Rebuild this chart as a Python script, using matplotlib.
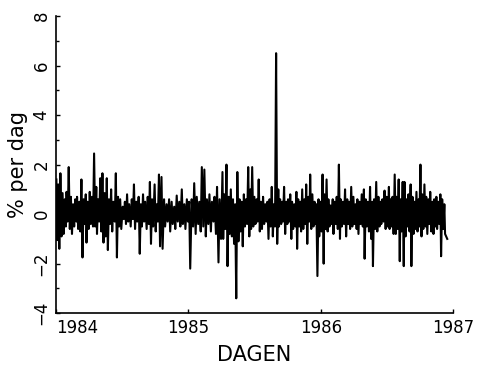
import numpy as np
import pandas as pd
import matplotlib
matplotlib.use("Agg")
import matplotlib.pyplot as plt

# dagelijkse rendementen (% per dag), van links naar rechts
rendement_1 = [1.4, -1.05, 1.2, -1.4, 1.65, -0.9, 0.85, -0.8, 0.6, -0.5, 0.9, -0.3,
               1.9, -0.6, 0.7, -0.8, 0.4, -0.5, 0.6, -0.3, 0.7, -0.6, 0.5, -0.7,
               1.4, -1.75, 0.6, -0.4, 0.8, -1.15, 0.5, -0.6, 0.9, -0.4, 0.7, -0.5,
               2.45, -0.5, 1.1, -0.8, 0.6, -0.3, 1.45, -0.7, 1.65, -1.15, 0.85, -0.9]
rendement_2 = [1.45, -1.45, 0.6, -0.4, 1.0, -0.7, 0.5, -0.3, 1.65, -1.75, 0.7, -0.5,
               0.6, -0.6, 0.3, -0.2, 0.5, -0.4, 0.8, -0.3, 0.4, -0.5, 0.6, -0.2,
               1.2, -0.6, 0.5, -0.3, 0.7, -1.6, 0.4, -0.5, 0.8, -0.3, 0.5, -0.6,
               0.7, -0.4, 1.3, -1.2, 0.6, -0.5, 1.2, -0.7, 0.4, -0.3, 1.6, -1.3]
rendement_3 = [1.5, -1.4, 0.6, -0.5, 0.4, -0.3, 0.6, -0.7, 0.5, -0.4, 0.3, -0.6,
               0.75, -0.3, 0.5, -0.5, 1.0, -0.4, 0.4, -0.6, 0.6, -0.3, 0.5, -2.2,
               0.6, -0.5, 1.25, -0.8, 0.7, -0.4, 0.5, -0.7, 1.9, -0.5, 1.8, -0.9,
               0.6, -0.4, 0.8, -0.7, 0.5, -0.3, 0.7, -0.8, 1.1, -1.95, 0.6, -1.0]
rendement_4 = [1.7, -1.0, 0.8, -0.6, 2.0, -2.1, 0.7, -0.8, 1.0, -0.9, 0.6, -1.2,
               0.4, -3.4, 1.7, -1.1, 0.6, -0.7, 0.5, -1.3, 0.8, -0.5, 0.6, -0.4,
               1.9, -0.9, 1.0, -0.6, 1.9, -0.5, 0.7, -0.4, 0.6, -0.3, 1.4, -0.7,
               0.5, -0.6, 0.7, -0.4, 0.4, -0.3, 0.5, -1.0, 0.6, -0.5, 1.1, -0.9,
               0.4, -0.5, 6.5, -1.2]
rendement_5 = [1.0, -0.5, 0.6, -0.4, 0.5, -0.3, 1.1, -0.8, 0.5, -0.4, 0.6, -0.3,
               0.8, -1.0, 0.5, -0.6, 0.4, -0.5, 0.9, -1.4, 0.6, -0.5, 0.5, -0.7,
               1.0, -0.6, 0.6, -0.4, 1.2, -1.2, 0.7, -0.3, 1.6, -0.6, 0.8, -0.5,
               0.5, -0.4, 0.4, -2.5, 0.6, -0.9, 0.5, -0.7, 1.6, -2.0, 0.8, -0.6,
               1.4, -0.7, 0.6, -0.5, 0.35, -0.4]
rendement_6 = [0.6, -0.8, 0.5, -0.4, 0.7, -0.6, 2.0, -1.0, 0.6, -0.5, 0.5, -0.4,
               1.0, -0.9, 0.6, -0.4, 0.5, -0.6, 1.1, -0.5, 0.7, -0.4, 0.4, -0.6,
               0.6, -0.8, 0.5, -0.4, 0.8, -0.5, 1.0, -1.8, 0.6, -0.5, 0.5, -0.7,
               1.1, -1.0, 0.5, -2.1, 0.6, -0.6, 1.3, -0.7, 0.7, -0.5, 0.5, -0.4,
               0.6, -0.3, 0.95, -0.6, 0.7, -0.5]
rendement_7 = [1.1, -0.6, 0.6, -0.5, 0.7, -0.8, 1.6, -0.8, 0.7, -0.6, 1.4, -1.9,
               0.6, -0.7, 1.3, -2.1, 1.3, -0.9, 0.6, -0.5, 0.8, -0.7, 1.2, -2.1,
               0.7, -0.8, 0.5, -0.6, 0.9, -0.7, 0.6, -0.5, 2.0, -0.9, 0.8, -0.6,
               1.2, -0.5, 0.7, -0.8, 0.6, -0.4, 0.9, -0.7, 0.5, -0.8, 0.6, -0.5,
               0.7, -0.6, 0.5, -0.4, 0.8, -1.7, 0.6, -0.6, 0.4, -0.8, -0.9, -1.0]

stukken = [rendement_1, rendement_2, rendement_3, rendement_4,
           rendement_5, rendement_6, rendement_7]
# begindatum van elk stuk, plus de laatste dag
grensdata = ["1984-01-02", "1984-05-20", "1984-10-18", "1985-04-05",
             "1985-09-06", "1986-02-03", "1986-07-08", "1986-12-19"]
jaren = [1984, 1985, 1986, 1987]

# datums per stuk, daarna omzetten naar decimale jaren
dagen = []
for i, stuk in enumerate(stukken):
    d = pd.date_range(grensdata[i], grensdata[i + 1], periods=len(stuk) + 1)[:-1]
    dagen.extend(d)
dagen = pd.DatetimeIndex(dagen)
x = dagen.year + (dagen.dayofyear - 1) / 365.25
rendement = sum(stukken, [])

fig = plt.figure(figsize=(4.79, 3.65), dpi=100)
ax = fig.add_axes([0.117, 0.142, 0.829, 0.814])

ax.plot(x, rendement, color="black", linewidth=1.5)

ax.set_xlim(1984, 1987)
ax.set_ylim(-4, 8)
ax.set_xticks(jaren)
ax.set_xticklabels([str(j) for j in jaren], fontsize=12)
ax.get_xticklabels()[0].set_horizontalalignment("left")
ax.set_yticks([-4, -2, 0, 2, 4, 6, 8])
ax.set_yticks([-3, -1, 1, 3, 5, 7], minor=True)
ax.set_yticklabels(["\u22124", "\u22122", "0", "2", "4", "6", "8"], fontsize=12,
                   rotation=90, va="center")

ax.tick_params(direction="in", length=3, width=1, pad=4)
ax.tick_params(axis="y", which="minor", direction="in", length=2.5, width=1)

for kant in ["top", "right"]:
    ax.spines[kant].set_visible(False)
for kant in ["left", "bottom"]:
    ax.spines[kant].set_linewidth(1.2)

ax.set_xlabel("DAGEN", fontsize=15, labelpad=6)
ax.set_ylabel("% per dag", fontsize=15, labelpad=3)

plt.savefig("out.png", dpi=100)
